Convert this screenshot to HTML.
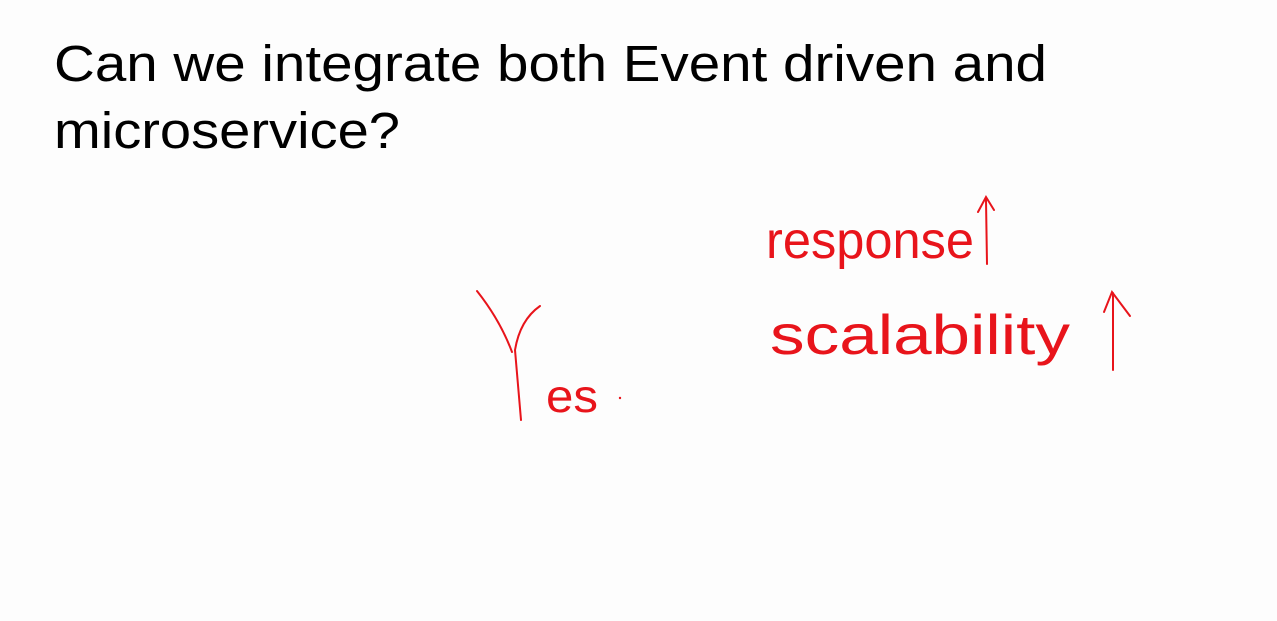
<!DOCTYPE html>
<html><head><meta charset="utf-8"><style>
html,body{margin:0;padding:0;background:#fdfdfd;}
svg{display:block;}
</style></head><body>
<svg width="1277" height="621" viewBox="0 0 1277 621" xmlns="http://www.w3.org/2000/svg">
<rect width="1277" height="621" fill="#fdfdfd"/>
<g font-family="'Liberation Sans', sans-serif" fill="#000" font-size="51">
<text x="54" y="81" textLength="993" lengthAdjust="spacingAndGlyphs">Can we integrate both Event driven and</text>
<text x="54" y="148" textLength="346" lengthAdjust="spacingAndGlyphs">microservice?</text>
</g>
<g font-family="'Liberation Sans', sans-serif" fill="none" stroke="#e8141b" stroke-width="2" stroke-linecap="round">
<path d="M477 291 Q500 320 512 352 M540 306 Q520 320 515 350 L521 420"/>
<path d="M986 200 L987 264 M978 212 L986 197 L994 210"/>
<path d="M1113 293 L1113 370 M1104 312 L1112 292 L1130 316"/>
</g>
<g font-family="'Liberation Sans', sans-serif" fill="#e8141b">
<text x="546" y="412" font-size="46" textLength="52" lengthAdjust="spacingAndGlyphs">es</text>
<circle cx="620" cy="398" r="1.2"/>
<text x="766" y="258" font-size="52" textLength="208" lengthAdjust="spacingAndGlyphs" font-weight="normal" style="font-family:'Liberation Sans',sans-serif">response</text>
<text x="770" y="354" font-size="56" textLength="300" lengthAdjust="spacingAndGlyphs">scalability</text>
</g>
</svg>
</body></html>
